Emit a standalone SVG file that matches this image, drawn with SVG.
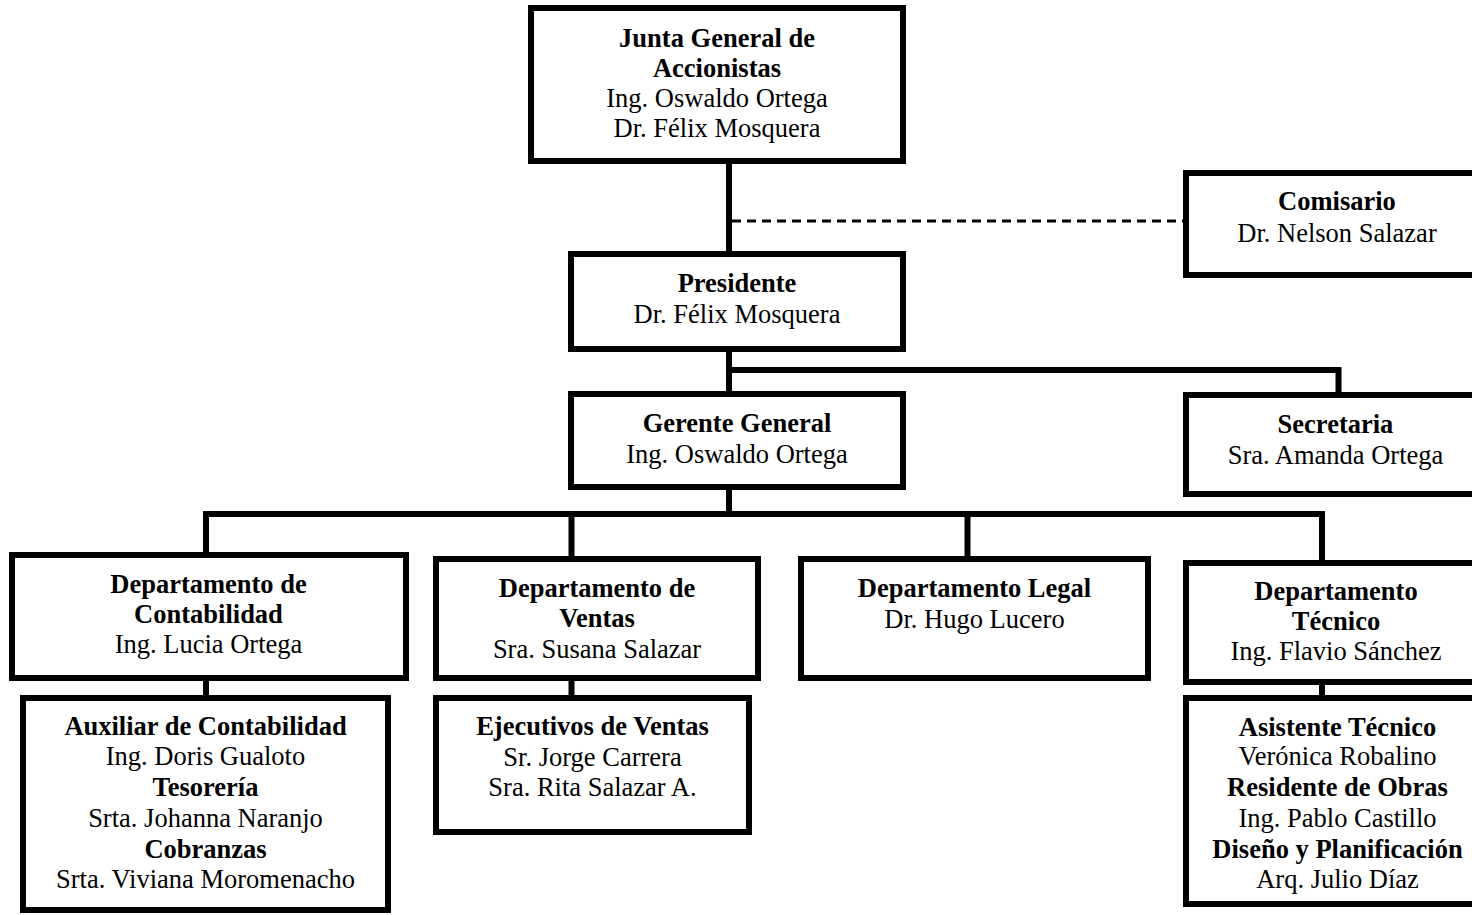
<svg xmlns="http://www.w3.org/2000/svg" width="1472" height="915" viewBox="0 0 1472 915">
<style>
.box{fill:#fff;stroke:#000;stroke-width:6}
.ln{fill:none;stroke:#000;stroke-width:6}
.dash{fill:none;stroke:#000;stroke-width:3;stroke-dasharray:9 6}
text{font-family:"Liberation Serif","Times New Roman",serif;font-size:26.5px;text-anchor:middle;fill:#000}
.b{font-weight:bold}
</style>
<rect width="1472" height="915" fill="#fff"/>
<g id="connectors">
<line class="ln" x1="729" y1="161" x2="729" y2="254"/>
<line class="dash" x1="732" y1="221" x2="1186" y2="221"/>
<line class="ln" x1="729" y1="349" x2="729" y2="394"/>
<polyline class="ln" points="729,370 1338.5,370 1338.5,395"/>
<line class="ln" x1="729" y1="487" x2="729" y2="514"/>
<line class="ln" x1="203" y1="514" x2="1325" y2="514"/>
<line class="ln" x1="206" y1="511" x2="206" y2="555"/>
<line class="ln" x1="571.5" y1="514" x2="571.5" y2="559"/>
<line class="ln" x1="967.5" y1="514" x2="967.5" y2="559"/>
<line class="ln" x1="1322" y1="511" x2="1322" y2="563"/>
<line class="ln" x1="206" y1="678" x2="206" y2="698"/>
<line class="ln" x1="571.5" y1="678" x2="571.5" y2="698"/>
<line class="ln" x1="1322" y1="682" x2="1322" y2="698"/>
</g>
<g id="junta">
<rect class="box" x="531" y="8" width="372" height="153"/>
<text x="717" y="47" class="b">Junta General de</text>
<text x="717" y="77" class="b">Accionistas</text>
<text x="717" y="107">Ing. Oswaldo Ortega</text>
<text x="717" y="137">Dr. Félix Mosquera</text>
</g>
<g id="comisario">
<rect class="box" x="1186" y="173" width="300" height="102"/>
<text x="1337" y="210" class="b">Comisario</text>
<text x="1337" y="242">Dr. Nelson Salazar</text>
</g>
<g id="presidente">
<rect class="box" x="571" y="254" width="332" height="95"/>
<text x="737" y="292" class="b">Presidente</text>
<text x="737" y="323">Dr. Félix Mosquera</text>
</g>
<g id="gerente">
<rect class="box" x="571" y="394" width="332" height="93"/>
<text x="737" y="432" class="b">Gerente General</text>
<text x="737" y="463">Ing. Oswaldo Ortega</text>
</g>
<g id="secretaria">
<rect class="box" x="1186" y="395" width="300" height="99"/>
<text x="1335.5" y="433" class="b">Secretaria</text>
<text x="1335.5" y="464">Sra. Amanda Ortega</text>
</g>
<g id="contabilidad">
<rect class="box" x="12" y="555" width="394" height="123"/>
<text x="208.5" y="593" class="b">Departamento de</text>
<text x="208.5" y="623" class="b">Contabilidad</text>
<text x="208.5" y="653">Ing. Lucia Ortega</text>
</g>
<g id="ventas">
<rect class="box" x="436" y="559" width="322" height="119"/>
<text x="597" y="597" class="b">Departamento de</text>
<text x="597" y="627" class="b">Ventas</text>
<text x="597" y="658">Sra. Susana Salazar</text>
</g>
<g id="legal">
<rect class="box" x="801" y="559" width="347" height="119"/>
<text x="974.5" y="597" class="b">Departamento Legal</text>
<text x="974.5" y="628">Dr. Hugo Lucero</text>
</g>
<g id="tecnico">
<rect class="box" x="1186" y="563" width="300" height="119"/>
<text x="1336" y="600" class="b">Departamento</text>
<text x="1336" y="630" class="b">Técnico</text>
<text x="1336" y="660">Ing. Flavio Sánchez</text>
</g>
<g id="auxiliar">
<rect class="box" x="23" y="698" width="365" height="212"/>
<text x="205.5" y="735" class="b">Auxiliar de Contabilidad</text>
<text x="205.5" y="765">Ing. Doris Gualoto</text>
<text x="205.5" y="796" class="b">Tesorería</text>
<text x="205.5" y="827">Srta. Johanna Naranjo</text>
<text x="205.5" y="858" class="b">Cobranzas</text>
<text x="205.5" y="888">Srta. Viviana Moromenacho</text>
</g>
<g id="ejecutivos">
<rect class="box" x="436" y="698" width="313" height="134"/>
<text x="592.5" y="735" class="b">Ejecutivos de Ventas</text>
<text x="592.5" y="766">Sr. Jorge Carrera</text>
<text x="592.5" y="796">Sra. Rita Salazar A.</text>
</g>
<g id="asistente">
<rect class="box" x="1186" y="698" width="300" height="206"/>
<text x="1337.5" y="736" class="b">Asistente Técnico</text>
<text x="1337.5" y="765">Verónica Robalino</text>
<text x="1337.5" y="796" class="b">Residente de Obras</text>
<text x="1337.5" y="827">Ing. Pablo Castillo</text>
<text x="1337.5" y="858" class="b">Diseño y Planificación</text>
<text x="1337.5" y="888">Arq. Julio Díaz</text>
</g>
</svg>
